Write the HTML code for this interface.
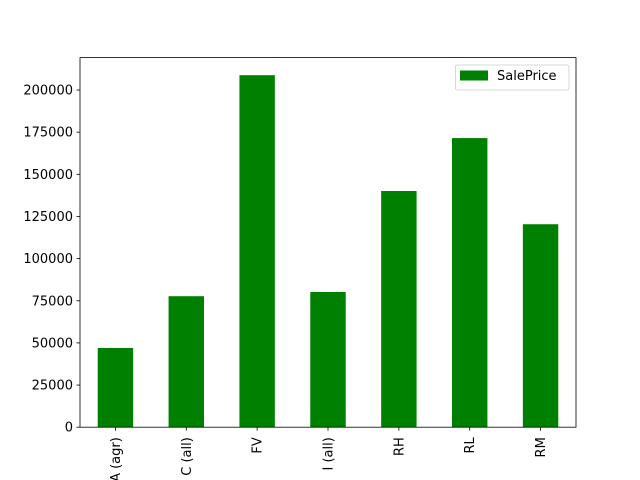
<!DOCTYPE html>
<html><head><meta charset="utf-8"><style>
html,body{margin:0;padding:0;background:#fff;overflow:hidden;}
svg{display:block;font-family:"DejaVu Sans","Liberation Sans",sans-serif;}
</style></head><body>
<svg id="chart" width="640" height="480" viewBox="0 0 640 480">
<rect width="640" height="480" fill="#fff"/>
<g id="bars"></g>
<g id="yticks"></g>
<g id="xticks"></g>
<rect x="80" y="57.6" width="496" height="369.6" fill="none" stroke="#000" stroke-width="0.8"/>
<g>
<rect x="455.5" y="65" width="113.5" height="25" rx="2" fill="#fff" fill-opacity="0.8" stroke="#ccc" stroke-width="0.8"/>
<rect x="460" y="70.5" width="28" height="10" fill="#008000"/>
<text x="497" y="80" font-size="13" fill="#000">SalePrice</text>
</g>
</svg>
<script>
const categories = ["A (agr)","C (all)","FV","I (all)","RH","RL","RM"];
const salePrice = [47000, 77700, 208800, 80200, 140100, 171500, 120400];
const yTicks = [0,25000,50000,75000,100000,125000,150000,175000,200000];
const NS="http://www.w3.org/2000/svg";
const L=80,R=576,T=57.6,B=427.2;
const yMax=Math.max(...salePrice)*1.05;
const y=v=>B-(v/yMax)*(B-T);
const step=(R-L)/categories.length;
const xc=i=>L+step*(i+0.5);
const bars=document.getElementById('bars');
salePrice.forEach((v,i)=>{
  const r=document.createElementNS(NS,'rect');
  r.setAttribute('x',xc(i)-step/4);r.setAttribute('width',step/2);
  r.setAttribute('y',y(v));r.setAttribute('height',B-y(v));
  r.setAttribute('fill','#008000');
  
  
  bars.appendChild(r);
});
const yg=document.getElementById('yticks');
yTicks.forEach(t=>{
  const l=document.createElementNS(NS,'line');
  l.setAttribute('x1',L-3.5);l.setAttribute('x2',L);l.setAttribute('y1',y(t));l.setAttribute('y2',y(t));
  l.setAttribute('stroke','#000');l.setAttribute('stroke-width','0.8');
  
  
  yg.appendChild(l);
  const tx=document.createElementNS(NS,'text');
  tx.setAttribute('x',L-7);tx.setAttribute('y',y(t)+4.5);tx.setAttribute('text-anchor','end');
  tx.setAttribute('font-size','13');tx.textContent=t;
  
  
  yg.appendChild(tx);
});
const xg=document.getElementById('xticks');
categories.forEach((c,i)=>{
  const l=document.createElementNS(NS,'line');
  l.setAttribute('x1',xc(i));l.setAttribute('x2',xc(i));l.setAttribute('y1',B);l.setAttribute('y2',B+3.5);
  l.setAttribute('stroke','#000');l.setAttribute('stroke-width','0.8');
  
  
  xg.appendChild(l);
  const tx=document.createElementNS(NS,'text');
  tx.setAttribute('transform','translate('+(xc(i)+4.5)+','+(B+10)+') rotate(-90)');
  tx.setAttribute('text-anchor','end');tx.setAttribute('font-size','13');tx.textContent=c;
  
  
  xg.appendChild(tx);
});
</script>
</body></html>
